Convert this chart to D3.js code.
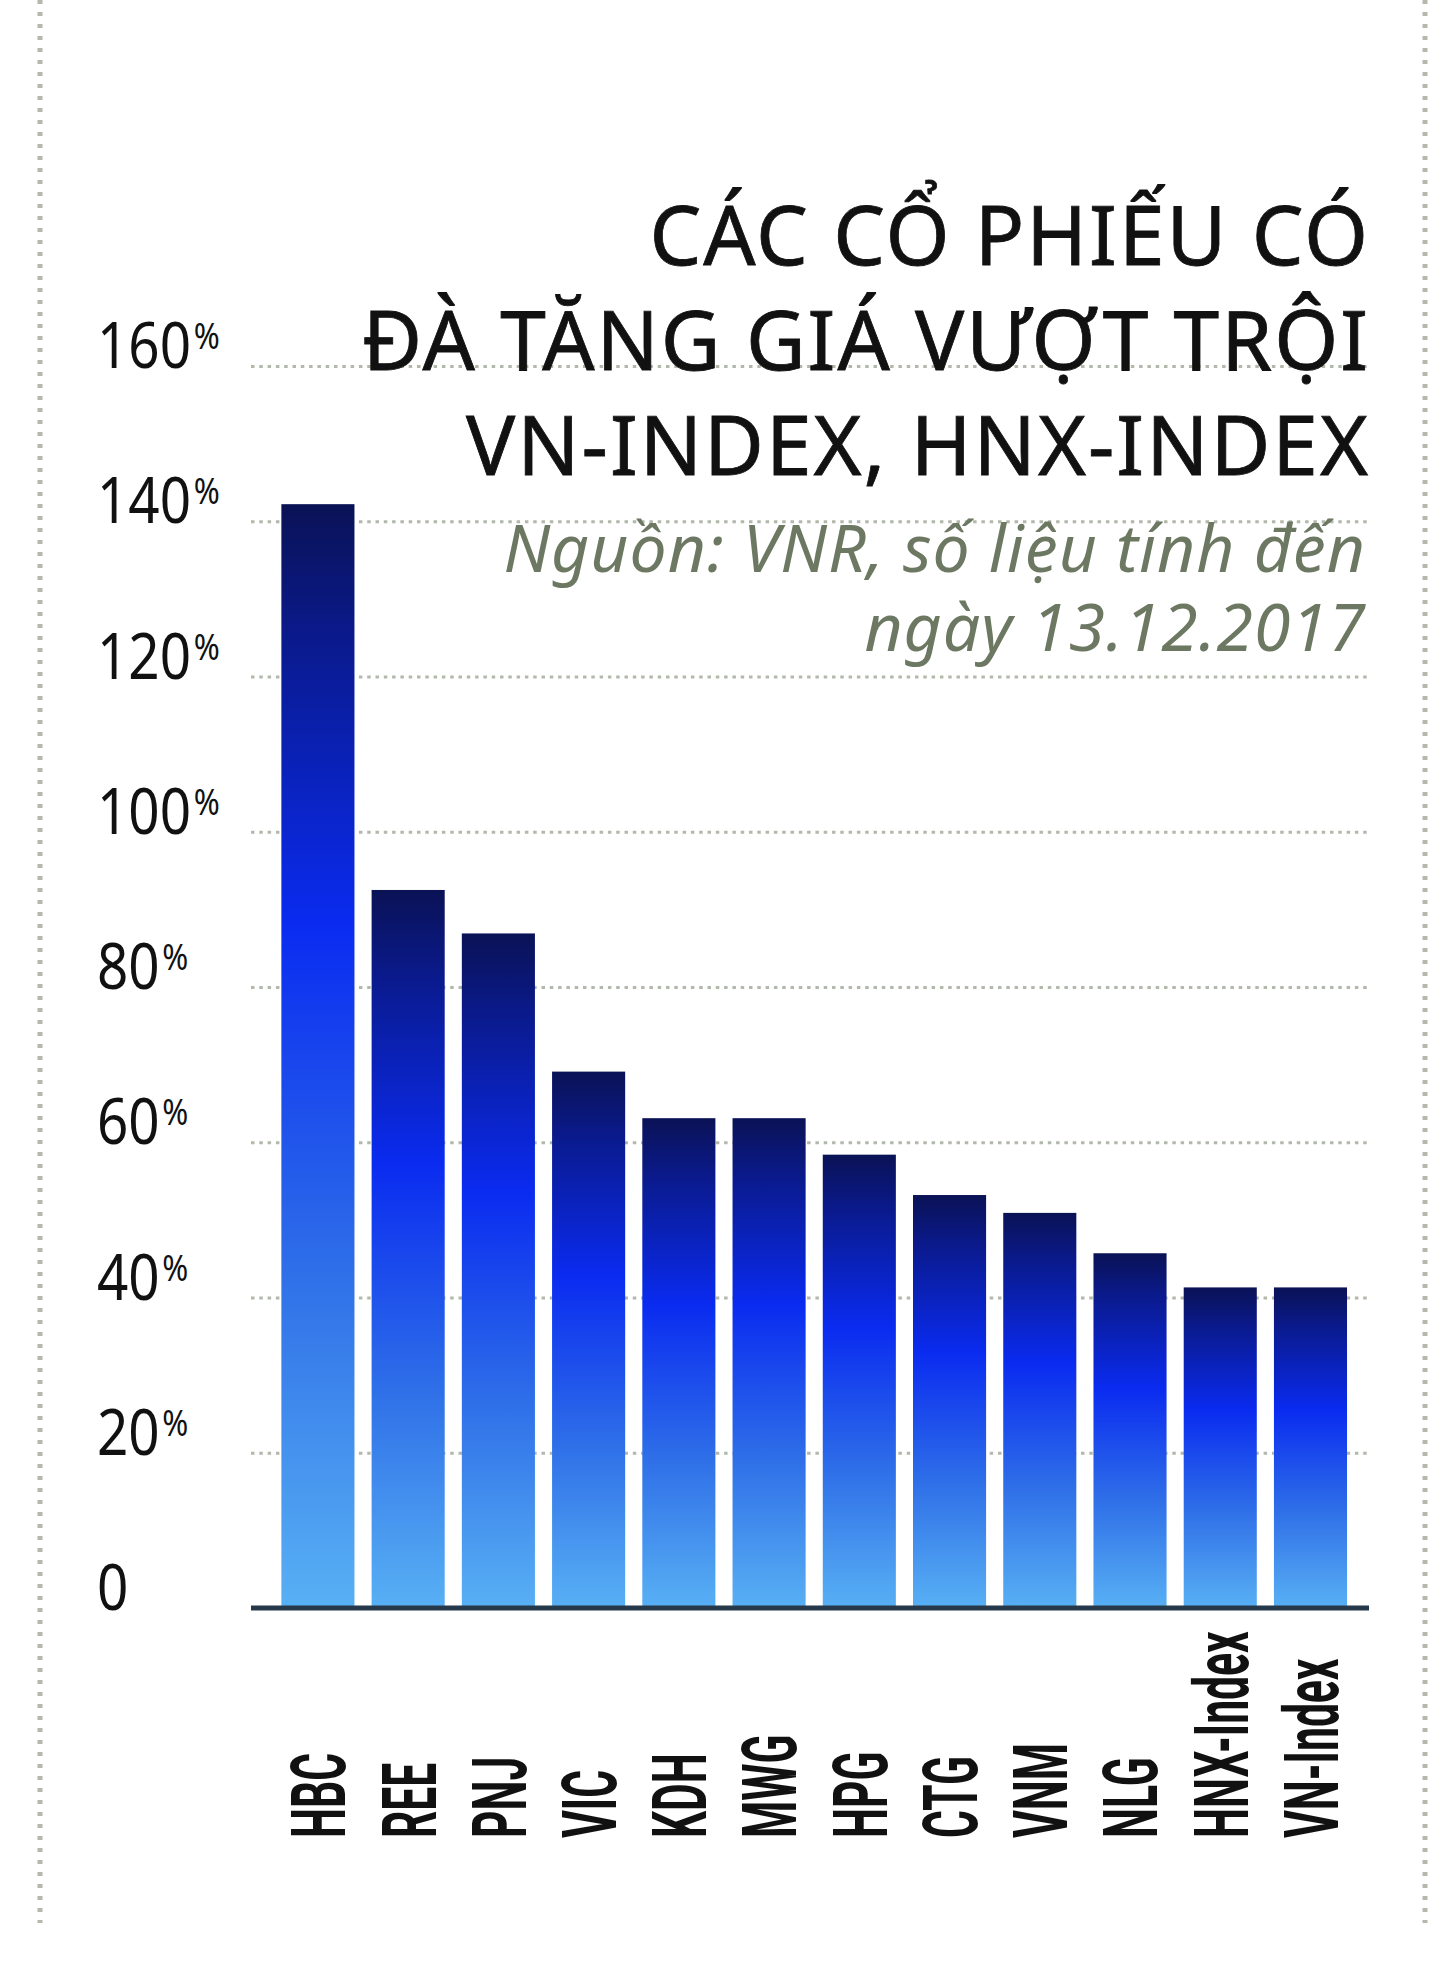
<!DOCTYPE html>
<html lang="vi">
<head>
<meta charset="utf-8">
<title>Các cổ phiếu có đà tăng giá vượt trội VN-Index, HNX-Index</title>
<script src="https://cdn.jsdelivr.net/npm/d3@7"></script>
<style>
  html, body { margin: 0; padding: 0; background: #fff; }
  svg { display: block; }
</style>
</head>
<body>
<div id="canvas"></div>
<script>
'use strict';

/* Chart data. */
const tickers = ['HBC', 'REE', 'PNJ', 'VIC', 'KDH', 'MWG', 'HPG', 'CTG', 'VNM',
  'NLG', 'HNX-Index', 'VN-Index'];
const gains = [142.2, 92.5, 86.9, 69.1, 63.1, 63.1, 58.4, 53.2, 50.9, 45.7,
  41.3, 41.3];
const yTicks = [0, 20, 40, 60, 80, 100, 120, 140, 160];
const titleLines = ['CÁC CỔ PHIẾU CÓ', 'ĐÀ TĂNG GIÁ VƯỢT TRỘI',
  'VN-INDEX, HNX-INDEX'];
const sourceLines = ['Nguồn: VNR, số liệu tính đến', 'ngày 13.12.2017'];

/**
 * Sets up the svg and draws the bar chart on it.
 */
class BarChart {
  constructor() {
    this.canvasWidth_ = 1453;
    this.canvasHeight_ = 1969;
    /* Plot area: gridlines run from left to right, bars sit on the baseline. */
    this.plot_ = {left: 251, right: 1369, top: 366, baseline: 1608};

    this.svg_ = d3.select('#canvas').append('svg')
        .attr('width', this.canvasWidth_)
        .attr('height', this.canvasHeight_);

    this.x_ = d3.scaleBand()
        .domain(tickers)
        .range([272.8, 1355.6])
        .paddingInner(0.19)
        .paddingOuter(0.095);
    this.y_ = d3.scaleLinear()
        .domain([0, 160])
        .range([this.plot_.baseline, this.plot_.top]);
  }

  drawFrame_() {
    [40, 1425].forEach((x) => {
      this.svg_.append('line')
          .attr('x1', x).attr('x2', x)
          .attr('y1', 0).attr('y2', 1923)
          .attr('stroke', '#b3baad')
          .attr('stroke-width', 5)
          .attr('stroke-dasharray', '4 8');
    });
  }

  drawGradient_() {
    const grad = this.svg_.append('defs')
        .append('linearGradient')
        .attr('id', 'bar-fill')
        .attr('x1', 0).attr('y1', 0)
        .attr('x2', 0).attr('y2', 1);
    [
      {offset: '0%', color: '#0a1255'},
      {offset: '12%', color: '#0a1a8c'},
      {offset: '38%', color: '#0a2bf0'},
      {offset: '70%', color: '#2f70e8'},
      {offset: '100%', color: '#58b0f4'},
    ].forEach((s) => {
      grad.append('stop')
          .attr('offset', s.offset)
          .attr('stop-color', s.color);
    });
  }

  drawYAxis_() {
    const width = this.plot_.right - this.plot_.left;
    const axis = this.svg_.append('g')
        .attr('transform', `translate(${this.plot_.left},0)`)
        .call(d3.axisLeft(this.y_)
            .tickValues(yTicks)
            .tickSize(-width)
            .tickFormat(''));
    axis.select('.domain').remove();
    axis.selectAll('.tick line')
        .attr('stroke', '#b2b9ab')
        .attr('stroke-width', 3)
        .attr('stroke-dasharray', '3.5 4.8')
        .attr('display', (d) => d === 0 ? 'none' : null);

    /* Tick labels: condensed numbers with a small raised percent sign. */
    const labels = this.svg_.append('g')
        .attr('class', 'y-labels')
        .selectAll('text')
        .data(yTicks)
        .join('text')
        .attr('transform', (d) => `translate(97,${this.y_(d) + 2}) scale(0.87,1)`)
        .attr('font-family', '"Noto Sans", sans-serif')
        .attr('font-size', 63)
        .attr('fill', '#111');
    labels.append('tspan').text((d) => d);
    labels.filter((d) => d !== 0)
        .append('tspan')
        .attr('dx', 3)
        .attr('dy', -19)
        .attr('font-size', 36)
        .attr('letter-spacing', -2)
        .text('%');
  }

  drawBars_() {
    this.svg_.append('g')
        .attr('class', 'bars')
        .selectAll('rect')
        .data(tickers)
        .join('rect')
        .attr('x', (d) => this.x_(d))
        .attr('width', this.x_.bandwidth())
        .attr('y', (d, i) => this.y_(gains[i]))
        .attr('height', (d, i) => this.y_(0) - this.y_(gains[i]))
        .attr('fill', 'url(#bar-fill)');

    this.svg_.append('line')
        .attr('x1', this.plot_.left)
        .attr('x2', this.plot_.right)
        .attr('y1', this.plot_.baseline)
        .attr('y2', this.plot_.baseline)
        .attr('stroke', '#25394a')
        .attr('stroke-width', 5);
  }

  drawXAxis_() {
    const axis = this.svg_.append('g')
        .attr('transform', 'translate(0,1838)')
        .call(d3.axisBottom(this.x_).tickSize(0));
    axis.select('.domain').remove();
    axis.selectAll('.tick text')
        .attr('transform', 'rotate(-90) scale(0.56,1)')
        .attr('x', 0)
        .attr('y', 0)
        .attr('dy', '0.36em')
        .attr('text-anchor', 'start')
        .attr('font-family', 'Roboto, sans-serif')
        .attr('font-weight', 700)
        .attr('font-size', 76)
        .attr('fill', '#111');
  }

  drawTitle_() {
    const title = this.svg_.append('g').attr('class', 'title');
    title.selectAll('text.head')
        .data(titleLines)
        .join('text')
        .attr('class', 'head')
        .attr('x', 1370)
        .attr('y', (d, i) => 265 + i * 105)
        .attr('text-anchor', 'end')
        .attr('font-family', '"Noto Sans", sans-serif')
        .attr('font-size', 82)
        .attr('letter-spacing', 2)
        .attr('fill', '#111')
        .attr('stroke', '#111')
        .attr('stroke-width', 0.8)
        .text((d) => d);
    title.selectAll('text.source')
        .data(sourceLines)
        .join('text')
        .attr('class', 'source')
        .attr('x', 1366)
        .attr('y', (d, i) => 572 + i * 79)
        .attr('text-anchor', 'end')
        .attr('font-family', '"Noto Sans", sans-serif')
        .attr('font-style', 'italic')
        .attr('font-size', 66)
        .attr('letter-spacing', 1)
        .attr('fill', '#6d7862')
        .text((d) => d);
  }

  draw() {
    this.drawFrame_();
    this.drawGradient_();
    this.drawYAxis_();
    this.drawBars_();
    this.drawXAxis_();
    this.drawTitle_();
  }
}

new BarChart().draw();
</script>
</body>
</html>
